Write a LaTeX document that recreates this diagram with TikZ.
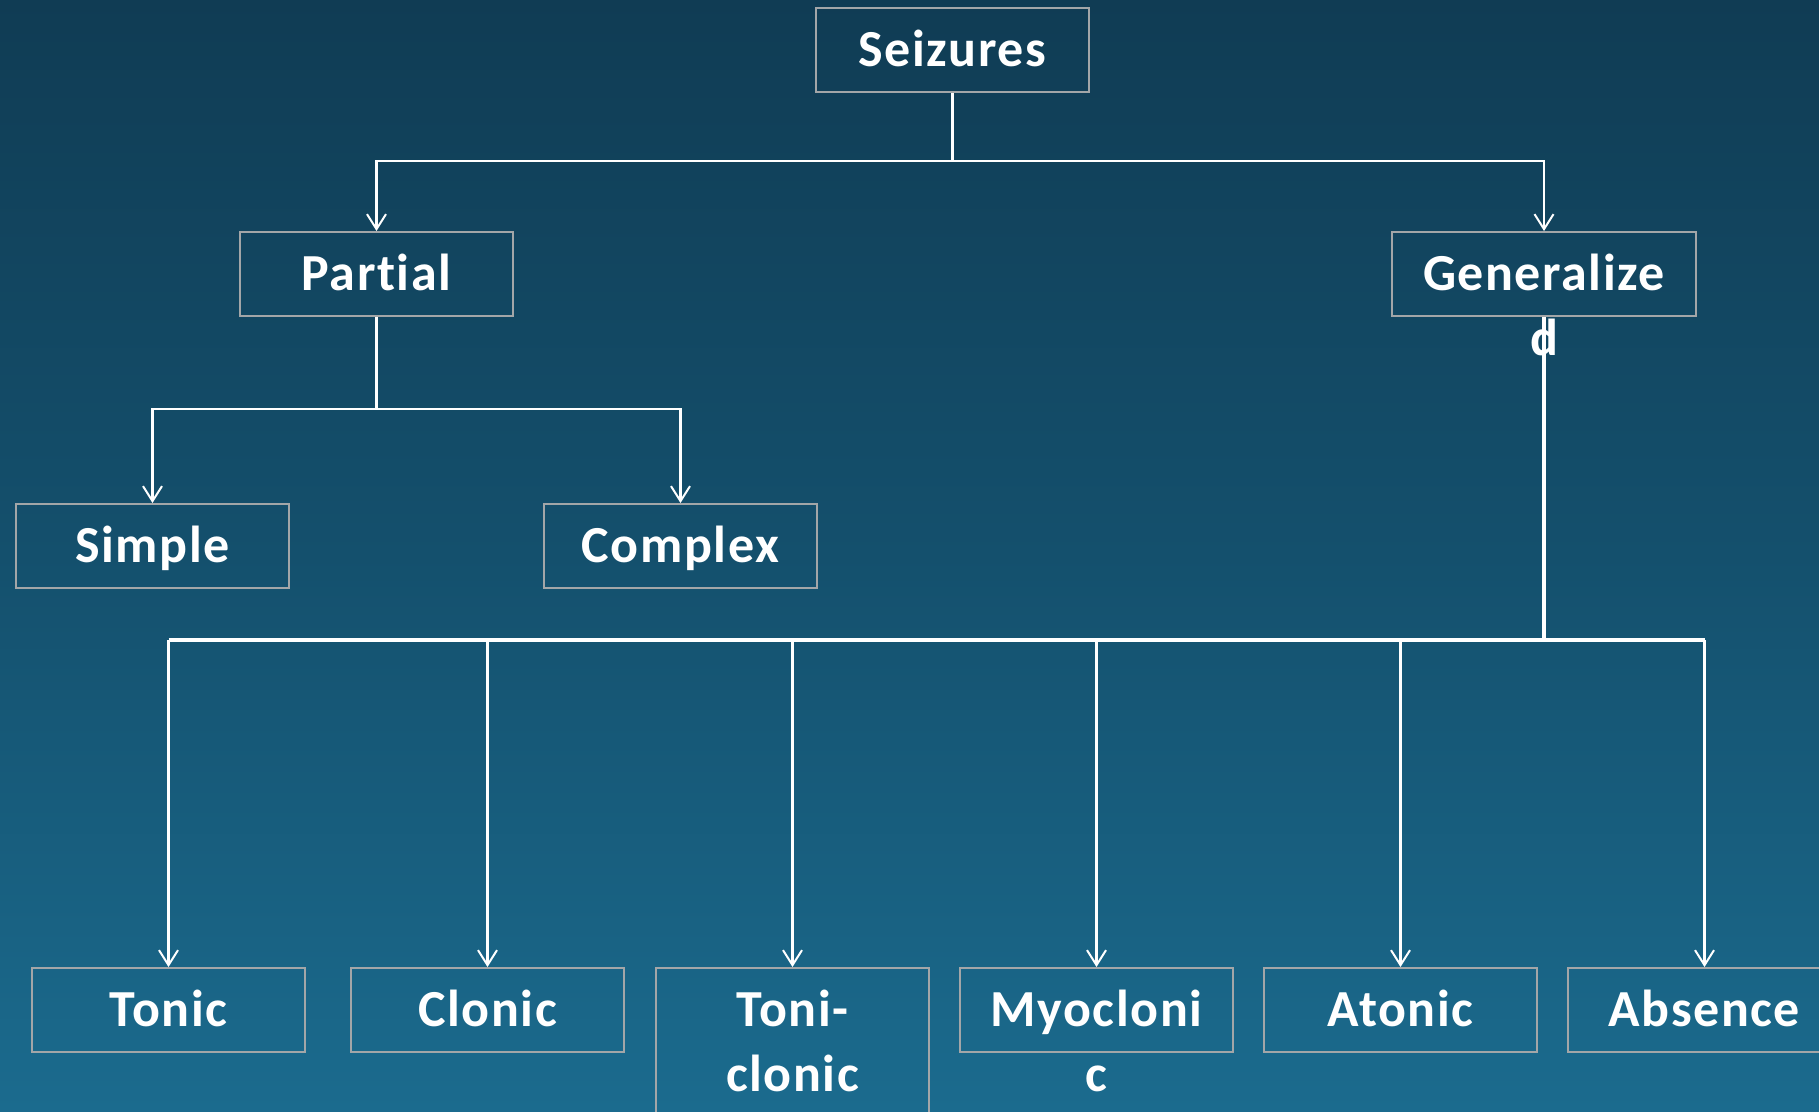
\documentclass[tikz,border=0pt]{standalone}
\usepackage{fontspec}
\setmainfont{Carlito}[LetterSpace=3, Ligatures=NoCommon]
\usetikzlibrary{arrows.meta}
\definecolor{bgtop}{HTML}{103C54}
\definecolor{bgbot}{HTML}{1B6B8E}
\definecolor{bgmid}{HTML}{14506D}
\definecolor{boxgray}{HTML}{A3A6A8}
\begin{document}
\begin{tikzpicture}[x=1pt,y=-1pt,
  box/.style={draw=boxgray, line width=2pt, minimum width=273pt, minimum height=84pt, inner sep=0pt, anchor=north west},
  lbl/.style={text=white, font=\bfseries\fontsize{52}{65}\selectfont, align=center, anchor=base, inner sep=0pt},
  conn/.style={draw=white, line width=2.2pt},
  bus/.style={draw=white, line width=3.2pt},
  arr/.style={conn, -{Straight Barb[length=15pt,width=19pt,line width=2pt]}}]
\useasboundingbox (0,0) rectangle (1819,1111);
\clip (0,0) rectangle (1819,1111);
\shade[top color=bgtop, bottom color=bgbot, middle color=bgmid] (0,0) rectangle (1819,1111);
% boxes
\node[box] (seiz) at (815,7) {};
\node[box] (part) at (239,231) {};
\node[box, minimum width=304pt] (gen) at (1391,231) {};
\node[box] (simp) at (15,503) {};
\node[box] (comp) at (543,503) {};
\node[box] (tonic) at (31,967) {};
\node[box] (clon) at (350,967) {};
\node[box, minimum height=220pt] (tc) at (655,967) {};
\node[box] (myo) at (959,967) {};
\node[box] (aton) at (1263,967) {};
\node[box] (abs) at (1567,967) {};
% labels
\node[lbl] (seizt) at ([yshift=-16pt]seiz.center) {Seizures};
\node[lbl] (partt) at ([yshift=-16pt]part.center) {Partial};
\node[lbl] (gent) at ([yshift=-81pt]gen.center) {Generalize\\d};
\node[lbl] (simpt) at ([yshift=-16pt]simp.center) {Simple};
\node[lbl] (compt) at ([yshift=-16pt]comp.center) {Complex};
\node[lbl] (tonict) at ([yshift=-16pt]tonic.center) {Tonic};
\node[lbl] (clont) at ([yshift=-16pt]clon.center) {Clonic};
\node[lbl] (tct) at ([yshift=-81pt]tonic.center -| tc.center) {Toni-\\clonic};
\node[lbl] (myot) at ([yshift=-81pt]myo.center) {Myocloni\\c};
\node[lbl] (atont) at ([yshift=-16pt]aton.center) {Atonic};
\node[lbl] (abst) at ([yshift=-16pt]abs.center) {Absence};
% connectors
\coordinate (j1) at (seiz.south |- 0,161);
\draw[conn] (seiz.south) -- (j1);
\draw[arr] (j1) -| (part.north);
\draw[arr] (j1) -| (gen.north);
\coordinate (j2) at (part.south |- 0,409);
\draw[conn] (part.south) -- (j2);
\draw[arr] (j2) -| (simp.north);
\draw[arr] (j2) -| (comp.north);
\coordinate (j3) at (gen.south |- 0,640);
\draw[bus] (gen.south) -- (j3);
\draw[bus] (tonic.north |- j3) -- (abs.north |- j3);
\foreach \n in {tonic,clon,tc,myo,aton,abs}
  \draw[arr] (\n.north |- j3) -- (\n.north);
\end{tikzpicture}
\end{document}
